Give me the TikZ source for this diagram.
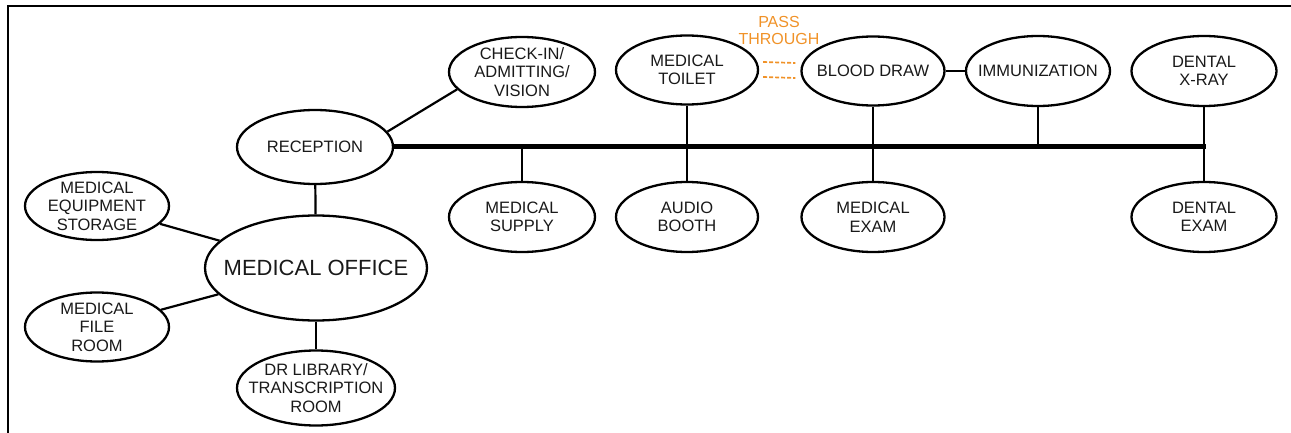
\documentclass[tikz,border=0pt]{standalone}
\usepackage{fontspec}
\setmainfont{Liberation Sans}
\usetikzlibrary{shapes.geometric,calc}
\definecolor{passorange}{RGB}{240,146,40}
\begin{document}
\begin{tikzpicture}[x=1pt,y=-1pt,
  room/.style args={#1/#2}{draw, ellipse, line width=2.3pt, inner sep=0pt,
    minimum width=#1pt, minimum height=#2pt},
  txt/.style={font=\fontsize{16.5}{18.5}\selectfont, align=center, text=black!90},
  big/.style={font=\fontsize{22}{26}\selectfont, align=center, text=black!90},
  link/.style={line width=2.2pt},
  bus/.style={line width=5pt},
  pass/.style={draw=passorange, line width=1.7pt, dash pattern=on 4pt off 2pt},
  frame/.style={line width=2.3pt}]
\useasboundingbox (0,0) rectangle (1291,433);
% frame
\coordinate (ftr) at (1291,6);
\coordinate (ftl) at (8,6);
\coordinate (fbl) at (8,433);
\draw[frame] (ftr) -- (ftl) -- (fbl);

% nodes
\node[room=156/74, label={[txt]center:RECEPTION}] (reception) at (315,147) {};
\node[room=222/105, label={[big]center:MEDICAL OFFICE}] (office) at (316,268) {};
\node[room=144/68, label={[txt]center:{MEDICAL\\EQUIPMENT\\STORAGE}}] (equip) at (97,206) {};
\node[room=144/69, label={[txt]center:{MEDICAL\\FILE\\ROOM}}] (file) at (97,327) {};
\node[room=158/75, label={[txt]center:{DR LIBRARY/\\TRANSCRIPTION\\ROOM}}] (library) at (316,388) {};
\node[room=146/70, label={[txt]center:{CHECK-IN/\\ADMITTING/\\VISION}}] (checkin) at (522,72) {};
\node[room=142/69, label={[txt]center:{MEDICAL\\TOILET}}] (toilet) at (687,70) {};
\node[room=143/69, label={[txt]center:{BLOOD DRAW}}] (blood) at (873,71) {};
\node[room=144/70, label={[txt]center:{IMMUNIZATION}}] (immun) at (1038,71) {};
\node[room=145/70, label={[txt]center:{DENTAL\\X-RAY}}] (xray) at (1204,71) {};
\node[room=146/70, label={[txt]center:{MEDICAL\\SUPPLY}}] (supply) at (522,217) {};
\node[room=142/70, label={[txt]center:{AUDIO\\BOOTH}}] (audio) at (687,217) {};
\node[room=143/70, label={[txt]center:{MEDICAL\\EXAM}}] (exam) at (873,217) {};
\node[room=145/70, label={[txt]center:{DENTAL\\EXAM}}] (dexam) at (1204,217) {};
\node[txt, text=passorange, font=\fontsize{16}{17}\selectfont] (passlbl) at (779,30) {PASS\\THROUGH};

% connectors
\coordinate (busend) at (1206,147);
\draw[bus] (reception.east) -- (busend);
\draw[link] (reception) -- (office);
\draw[link] (office) -- (library);
\draw[link] (equip) -- (office);
\draw[link] (file) -- (office);
\draw[link] (reception.12) -- (checkin.195);
\draw[link] (supply.north) -- (supply.north |- busend);
\draw[link] (toilet) -- (audio);
\draw[link] (blood) -- (exam);
\draw[link] (blood) -- (immun);
\draw[link] (immun.south) -- (immun.south |- busend);
\draw[link] (xray) -- (dexam);
\draw[pass] ($(toilet.east)+(4,-8)$) -- ($(blood.west)+(-5,-8)$);
\draw[pass] ($(toilet.east)+(4,7)$) -- ($(blood.west)+(-5,7)$);
\end{tikzpicture}
\end{document}
